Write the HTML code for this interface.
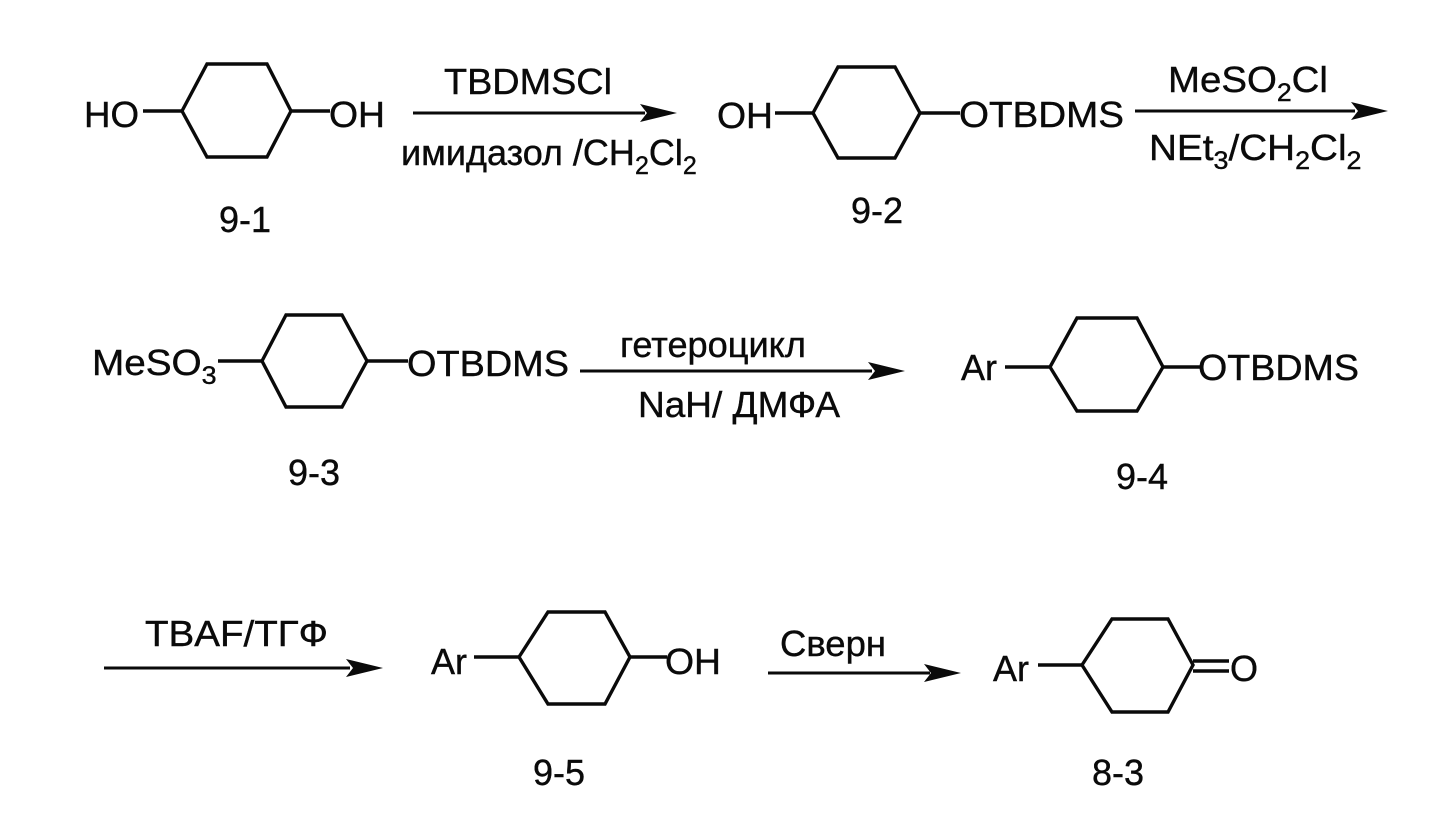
<!DOCTYPE html>
<html>
<head>
<meta charset="utf-8">
<style>
html,body{margin:0;padding:0;background:#fff;width:1450px;height:819px;overflow:hidden}
svg{display:block}
text{font-family:"Liberation Sans",sans-serif;font-size:36px;fill:#0a0a0a;stroke:#0a0a0a;stroke-width:.4px}
.s{font-size:25px}
.r{fill:none;stroke:#0a0a0a;stroke-width:3.4}
.l{fill:none;stroke:#0a0a0a;stroke-width:3}
.a{fill:#0a0a0a;stroke:none}
</style>
</head>
<body>
<svg width="1450" height="819" viewBox="0 0 1450 819" xmlns="http://www.w3.org/2000/svg">
<!-- 9-1 -->
<text x="84" y="127" textLength="55" lengthAdjust="spacingAndGlyphs">HO</text>
<polygon class="r" points="182,111 207,64 267,64 291,111 267,157 207,157"/>
<line class="r" x1="143" y1="111" x2="182" y2="111"/>
<line class="r" x1="291" y1="111" x2="330" y2="111"/>
<text x="329" y="127" textLength="56" lengthAdjust="spacingAndGlyphs">OH</text>
<text x="219" y="232">9-1</text>
<!-- arrow 1 -->
<text x="444" y="94" textLength="168" lengthAdjust="spacingAndGlyphs">TBDMSCl</text>
<line class="l" x1="413" y1="113" x2="645" y2="113"/>
<polygon class="a" points="677,113 640,104 647,113 640,122"/>
<text x="401" y="165">имидазол /CH<tspan class="s" dy="9">2</tspan><tspan dy="-9">Cl</tspan><tspan class="s" dy="9">2</tspan></text>
<!-- 9-2 -->
<text x="717" y="128" textLength="56" lengthAdjust="spacingAndGlyphs">OH</text>
<polygon class="r" points="813,113 838,67 895,67 920,113 895,158 838,158"/>
<line class="r" x1="775" y1="113" x2="813" y2="113"/>
<line class="r" x1="920" y1="113" x2="960" y2="113"/>
<text x="959" y="127" textLength="165" lengthAdjust="spacingAndGlyphs">OTBDMS</text>
<text x="851" y="223">9-2</text>
<!-- arrow 2 -->
<text transform="translate(1168,92) scale(1.067,1)">MeSO<tspan class="s" dy="9">2</tspan><tspan dy="-9">Cl</tspan></text>
<line class="l" x1="1135" y1="111" x2="1355" y2="111"/>
<polygon class="a" points="1388,111 1351,102 1358,111 1351,120"/>
<text transform="translate(1149,160) scale(1.075,1)">NEt<tspan class="s" dy="9">3</tspan><tspan dy="-9">/CH</tspan><tspan class="s" dy="9">2</tspan><tspan dy="-9">Cl</tspan><tspan class="s" dy="9">2</tspan></text>
<!-- 9-3 -->
<text transform="translate(92,375) scale(1.075,1)">MeSO<tspan class="s" dy="9">3</tspan></text>
<polygon class="r" points="262,361 286,315 342,315 367,361 342,407 286,407"/>
<line class="r" x1="218" y1="361" x2="262" y2="361"/>
<line class="r" x1="367" y1="361" x2="408" y2="361"/>
<text x="407" y="376" textLength="162" lengthAdjust="spacingAndGlyphs">OTBDMS</text>
<text x="288" y="485">9-3</text>
<!-- arrow 3 -->
<text x="620" y="357" textLength="186" lengthAdjust="spacingAndGlyphs">гетероцикл</text>
<line class="l" x1="580" y1="371" x2="872" y2="371"/>
<polygon class="a" points="905,371 868,362 875,371 868,380"/>
<text x="638" y="417" textLength="202" lengthAdjust="spacingAndGlyphs">NaH/ ДМФА</text>
<!-- 9-4 -->
<text x="961" y="380">Ar</text>
<polygon class="r" points="1050,367 1077,318 1137,318 1163,367 1137,411 1077,411"/>
<line class="r" x1="1005" y1="367" x2="1050" y2="367"/>
<line class="r" x1="1163" y1="367" x2="1200" y2="367"/>
<text x="1198" y="380" textLength="161" lengthAdjust="spacingAndGlyphs">OTBDMS</text>
<text x="1116" y="489">9-4</text>
<!-- arrow 4 -->
<text x="145" y="646" textLength="183" lengthAdjust="spacingAndGlyphs">TBAF/ТГФ</text>
<line class="l" x1="104" y1="668" x2="350" y2="668"/>
<polygon class="a" points="383,668 346,659 353,668 346,677"/>
<!-- 9-5 -->
<text x="431" y="674">Ar</text>
<polygon class="r" points="519,657 548,612 605,612 630,657 605,704 548,704"/>
<line class="r" x1="474" y1="657" x2="519" y2="657"/>
<line class="r" x1="630" y1="657" x2="667" y2="657"/>
<text x="665" y="674" textLength="56" lengthAdjust="spacingAndGlyphs">OH</text>
<text x="533" y="785">9-5</text>
<!-- arrow 5 -->
<text x="780" y="656" textLength="106" lengthAdjust="spacingAndGlyphs">Сверн</text>
<line class="l" x1="768" y1="673" x2="930" y2="673"/>
<polygon class="a" points="961,673 924,664 931,673 924,682"/>
<!-- 8-3 -->
<text x="993" y="681">Ar</text>
<polygon class="r" points="1082,665 1112,619 1168,619 1193,665 1168,712 1112,712"/>
<line class="r" x1="1038" y1="665" x2="1082" y2="665"/>
<line class="r" x1="1193" y1="661" x2="1229" y2="661"/>
<line class="r" x1="1193" y1="671" x2="1229" y2="671"/>
<text x="1230" y="681">O</text>
<text x="1092" y="785">8-3</text>
</svg>
</body>
</html>
